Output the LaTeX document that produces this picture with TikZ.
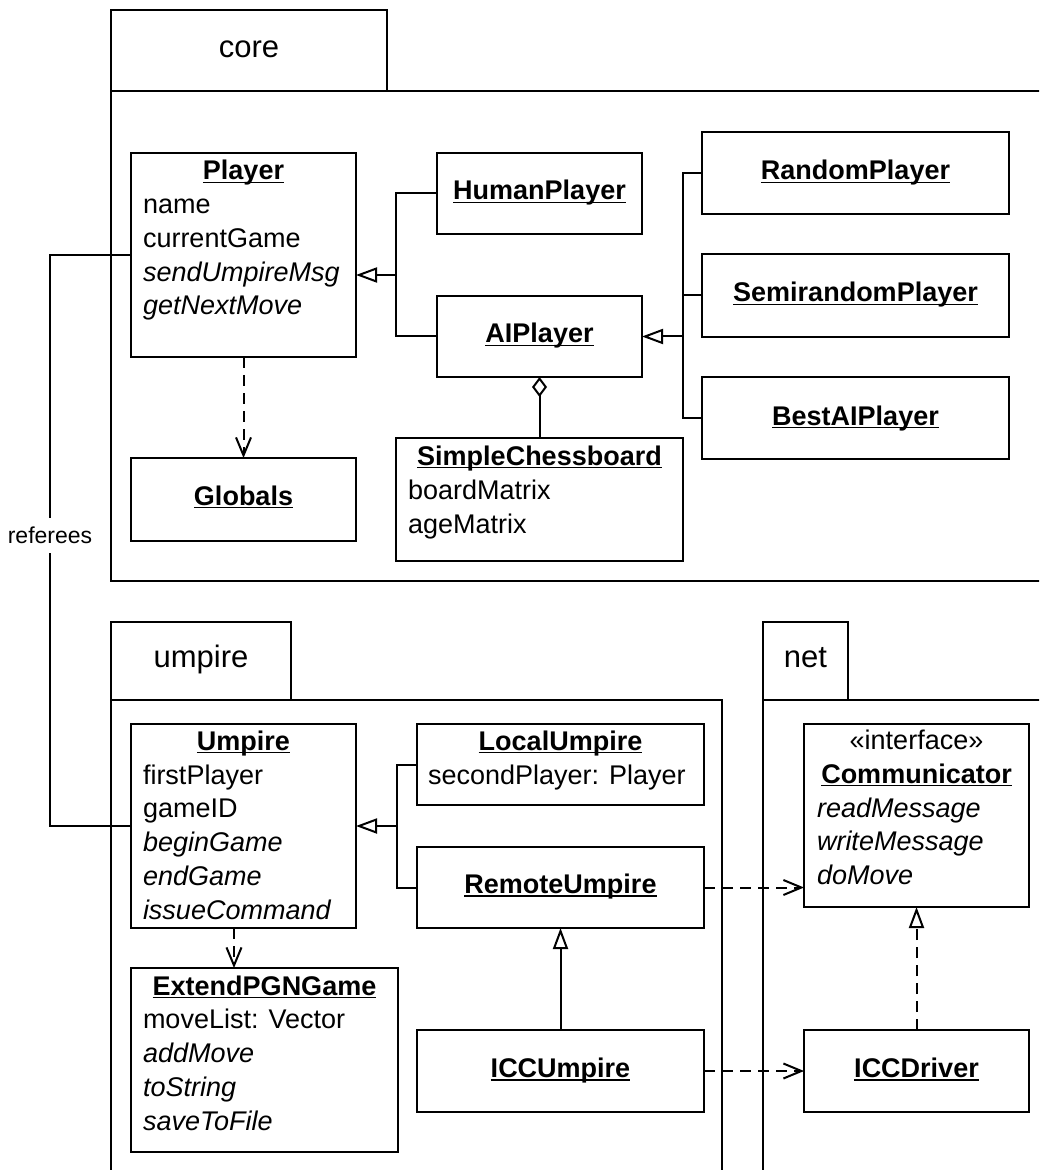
\documentclass[tikz,border=0pt]{standalone}
\usepackage{fontspec}
\setmainfont{Liberation Sans}
\usetikzlibrary{arrows.meta,fit,calc}
\newsavebox\myulbox
\newcommand\ulin[1]{\sbox\myulbox{#1}\rlap{\rule[-1.6pt]{\wd\myulbox}{0.8pt}}\usebox\myulbox}
\begin{document}
\begin{tikzpicture}[x=0.5pt,y=-0.5pt,
  every node/.style={inner sep=0pt, outer sep=0pt},
  ttl/.style={font=\fontsize{13.5}{16}\selectfont\bfseries, anchor=base},
  attr/.style={font=\fontsize{13.5}{16}\selectfont, anchor=base west},
  meth/.style={font=\fontsize{13.5}{16}\selectfont\itshape, anchor=base west},
  stereo/.style={font=\fontsize{13.5}{16}\selectfont, anchor=base},
  cls/.style={draw, line width=1.1pt, inner sep=0pt},
  pkg/.style={draw, line width=1.1pt},
  pkglabel/.style={font=\fontsize{15.5}{18}\selectfont, anchor=base},
  conn/.style={line width=1pt},
  dsh/.style={dash pattern=on 5.5pt off 3.5pt},
  gen/.style={conn, -{Triangle[open, length=10.5pt, width=7.5pt]}},
  real/.style={conn, dsh, -{Triangle[open, length=10.5pt, width=7.5pt]}},
  dep/.style={conn, dsh, -{Straight Barb[length=9pt, width=7.5pt]}},
  agg/.style={conn, {Diamond[open, length=10pt, width=7.5pt]}-},
]
\useasboundingbox (0,0) rectangle (1039,1170);
\clip (0,0) rectangle (1039,1170);

% ---------- packages ----------
\draw[pkg] (111,10) rectangle (387,91);
\draw[pkg] (111,91) rectangle (1100,581);
\node[pkglabel] (corelbl) at (249,58) {core};

\draw[pkg] (111,622) rectangle (291,700);
\draw[pkg] (111,700) rectangle (722,1250);
\node[pkglabel] (umplbl) at (201,667) {umpire};

\draw[pkg] (763,622) rectangle (848,700);
\draw[pkg] (763,700) rectangle (1100,1250);
\node[pkglabel] (netlbl) at (805.5,667) {net};

% ---------- core classes ----------
\node[cls, fit={(131,153) (356,357)}] (player) {};
\node[ttl] (player-t) at (243.5,180) {\ulin{Player}};
\node[attr] (player-a1) at (143,214) {name};
\node[attr] (player-a2) at (143,247.5) {currentGame};
\node[meth] (player-m1) at (143,281.5) {sendUmpireMsg};
\node[meth] (player-m2) at (143,315) {getNextMove};

\node[cls, fit={(437,153) (642,234)}] (human) {};
\node[ttl] (human-t) at (539.5,200) {\ulin{HumanPlayer}};

\node[cls, fit={(437,296) (642,377)}] (ai) {};
\node[ttl] (ai-t) at (539.5,343) {\ulin{AIPlayer}};

\node[cls, fit={(702,132) (1009,214)}] (random) {};
\node[ttl] (random-t) at (855.5,180) {\ulin{RandomPlayer}};

\node[cls, fit={(702,254) (1009,337)}] (semi) {};
\node[ttl] (semi-t) at (855.5,302) {\ulin{SemirandomPlayer}};

\node[cls, fit={(702,377) (1009,459)}] (best) {};
\node[ttl] (best-t) at (855.5,425) {\ulin{BestAIPlayer}};

\node[cls, fit={(131,458) (356,541)}] (globals) {};
\node[ttl] (globals-t) at (243.5,505) {\ulin{Globals}};

\node[cls, fit={(396,438) (683,561)}] (chess) {};
\node[ttl] (chess-t) at (539.5,465) {\ulin{SimpleChessboard}};
\node[attr] (chess-a1) at (408,499) {boardMatrix};
\node[attr] (chess-a2) at (408,533) {ageMatrix};

% ---------- umpire classes ----------
\node[cls, fit={(131,724) (356,928)}] (umpire) {};
\node[ttl] (umpire-t) at (243.5,750) {\ulin{Umpire}};
\node[attr] (umpire-a1) at (143,784) {firstPlayer};
\node[attr] (umpire-a2) at (143,817.5) {gameID};
\node[meth] (umpire-m1) at (143,851.5) {beginGame};
\node[meth] (umpire-m2) at (143,885) {endGame};
\node[meth] (umpire-m3) at (143,919) {issueCommand};

\node[cls, fit={(417,724) (704,805)}] (local) {};
\node[ttl] (local-t) at (560.5,750) {\ulin{LocalUmpire}};
\node[attr] (local-a1) at (428,784) {secondPlayer: Player};

\node[cls, fit={(417,847) (704,928)}] (remote) {};
\node[ttl] (remote-t) at (560.5,893.5) {\ulin{RemoteUmpire}};

\node[cls, fit={(417,1030) (704,1112)}] (iccumpire) {};
\node[ttl] (iccumpire-t) at (560.5,1077.5) {\ulin{ICCUmpire}};

\node[cls, fit={(131,968) (398,1152)}] (extpgn) {};
\node[ttl] (extpgn-t) at (264.5,995) {\ulin{ExtendPGNGame}};
\node[attr] (extpgn-a1) at (143,1028.5) {moveList: Vector};
\node[meth] (extpgn-m1) at (143,1062) {addMove};
\node[meth] (extpgn-m2) at (143,1096) {toString};
\node[meth] (extpgn-m3) at (143,1130) {saveToFile};

% ---------- net classes ----------
\node[cls, fit={(804,724) (1029,907)}] (comm) {};
\node[stereo] (comm-s) at (916.5,749) {«interface»};
\node[ttl] (comm-t) at (916.5,783) {\ulin{Communicator}};
\node[meth] (comm-m1) at (817,817) {readMessage};
\node[meth] (comm-m2) at (817,850.5) {writeMessage};
\node[meth] (comm-m3) at (817,884) {doMove};

\node[cls, fit={(804,1030) (1029,1112)}] (iccdriver) {};
\node[ttl] (iccdriver-t) at (916.5,1077.5) {\ulin{ICCDriver}};

% ---------- connectors ----------
% Player generalization
\coordinate (j1) at (396,275);
\draw[gen] (j1) -- (player.east |- j1);
\draw[conn] (human.west) -| (j1) |- (ai.west);

% AIPlayer generalization
\coordinate (j2) at (683,336.5);
\draw[gen] (j2) -- (ai.east);
\draw[conn] (random.west) -| (j2) |- (best.west);
\draw[conn] (semi.west) -- (semi.west -| j2);

% aggregation
\draw[agg] (ai.south) -- (chess.north);

% dependency Player -> Globals
\draw[dep] (player.south) -- (globals.north);

% referees
\draw[conn] (player.west) -- (50,255) |- node[pos=0.2456, fill=white, inner sep=4.5pt, font=\fontsize{11.5}{13}\selectfont] (reflbl) {referees} (umpire.west);

% Umpire generalization
\coordinate (j3) at (397,826);
\draw[gen] (j3) -- (umpire.east);
\draw[conn] (local.west) -| (j3) |- (remote.west);

% ICCUmpire -> RemoteUmpire
\draw[gen] (iccumpire.north) -- (remote.south);

% Umpire -> ExtendPGNGame
\coordinate (d1) at ($(umpire.south)+(-9.5,0)$);
\draw[dep] (d1) -- (d1 |- extpgn.north);

% RemoteUmpire -> Communicator
\draw[dep] (remote.east) -- (remote.east -| comm.west);
% ICCUmpire -> ICCDriver
\draw[dep] (iccumpire.east) -- (iccdriver.west);
% ICCDriver realizes Communicator
\draw[real] (iccdriver.north) -- (comm.south);
\end{tikzpicture}
\end{document}
